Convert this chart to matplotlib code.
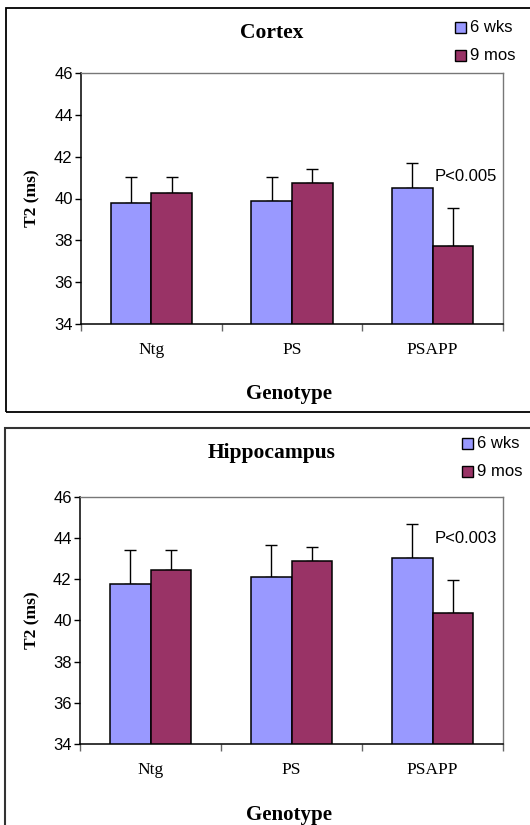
import matplotlib
matplotlib.use("Agg")
import matplotlib.pyplot as plt
import matplotlib.patches as patches
import numpy as np

# data
genotypes = ["Ntg", "PS", "PSAPP"]
series = ["6 wks", "9 mos"]

cortex_6wk = [39.8, 39.86, 40.48]
cortex_9mo = [40.28, 40.76, 37.74]
cortex_6wk_err = [1.24, 1.18, 1.2]
cortex_9mo_err = [0.76, 0.63, 1.82]

hippo_6wk = [41.78, 42.11, 43.03]
hippo_9mo = [42.46, 42.88, 40.36]
hippo_6wk_err = [1.62, 1.56, 1.63]
hippo_9mo_err = [0.94, 0.66, 1.62]

yticks = [34, 36, 38, 40, 42, 44, 46]
pvals = ["P<0.005", "P<0.003"]

blue = "#9999FF"
red = "#993366"
serif = "Liberation Serif"
sans = "Liberation Sans"

fig = plt.figure(figsize=(5.3, 8.25), dpi=100)

# panel frames
fig.patches.append(patches.Rectangle((6/530, 1-412/825), 1.2, 404/825, transform=fig.transFigure,
                                     fill=False, edgecolor="black", linewidth=1.3))
fig.patches.append(patches.Rectangle((5/530, -0.2), 1.2, 0.2+1-428/825, transform=fig.transFigure,
                                     fill=False, edgecolor="#333333", linewidth=1.5))


def panel(rect, title, title_y, v1, v2, e1, e2, ptxt, leg_y, leg_x, xlab_y):
    ax = fig.add_axes(rect)
    x = np.arange(len(genotypes))
    w = 0.288
    ax.bar(x - w/2, v1, w, color=blue, edgecolor="black", linewidth=1.1, zorder=2)
    ax.bar(x + w/2, v2, w, color=red, edgecolor="black", linewidth=1.1, zorder=2)
    ax.errorbar(x - w/2, v1, yerr=[np.zeros(3), e1], fmt="none", ecolor="black",
                elinewidth=1.0, capsize=4, capthick=1.0, zorder=1)
    ax.errorbar(x + w/2, v2, yerr=[np.zeros(3), e2], fmt="none", ecolor="black",
                elinewidth=1.0, capsize=4, capthick=1.0, zorder=1)
    ax.set_ylim(34, 46)
    ax.set_xlim(-0.5, 2.5)
    ax.set_yticks(yticks)
    ax.set_yticklabels([str(t) for t in yticks], fontfamily=sans, fontsize=12)
    ax.tick_params(axis="y", direction="out", length=4, width=1, pad=2)
    ax.set_xticks([-0.5, 0.5, 1.5, 2.5])
    ax.set_xticklabels([])
    ax.tick_params(axis="x", which="major", direction="out", length=5, width=1, color="#666666")
    ax.set_xticks(x, minor=True)
    ax.set_xticklabels(genotypes, minor=True, fontfamily=serif, fontsize=12.5)
    ax.tick_params(axis="x", which="minor", length=0, pad=13)
    for s in ["left", "bottom"]:
        ax.spines[s].set_color("black")
        ax.spines[s].set_linewidth(1.1)
    for s in ["top", "right"]:
        ax.spines[s].set_color("#777777")
        ax.spines[s].set_linewidth(1.0)
    ax.text(2.016, ptxt[1], ptxt[0], fontfamily=sans, fontsize=12, ha="left", va="center")

    fig.text(0.513, title_y, title, fontfamily=serif, fontweight="bold", fontsize=15.5,
             ha="center", va="center")
    mid = rect[1] + rect[3]/2
    fig.text(0.062, mid, "T2 (ms)", fontfamily=serif, fontweight="bold", fontsize=12.5,
             rotation=90, ha="center", va="center")
    fig.text(0.545, xlab_y, "Genotype", fontfamily=serif, fontweight="bold", fontsize=15,
             ha="center", va="center")
    # legend
    for i, (lab, col) in enumerate(zip(series, [blue, red])):
        yc = leg_y[i]
        fig.patches.append(patches.Rectangle((leg_x/530, 1-(yc+5.5)/825), 11/530, 11/825,
                                             transform=fig.transFigure, facecolor=col,
                                             edgecolor="black", linewidth=1.0))
        fig.text((leg_x+15)/530, 1-yc/825, lab, fontfamily=sans, fontsize=12,
                 ha="left", va="center")
    return ax


panel([81/530, 1-324/825, 422/530, 251/825], "Cortex", 1-33/825,
      cortex_6wk, cortex_9mo, cortex_6wk_err, cortex_9mo_err,
      (pvals[0], 41.07), [27.5, 55.5], 455, 1-394/825)
panel([80/530, 1-744.3/825, 423/530, 247.6/825], "Hippocampus", 1-453/825,
      hippo_6wk, hippo_9mo, hippo_6wk_err, hippo_9mo_err,
      (pvals[1], 43.95), [444, 472], 462, 1-815/825)

fig.savefig("out.png", dpi=100)
